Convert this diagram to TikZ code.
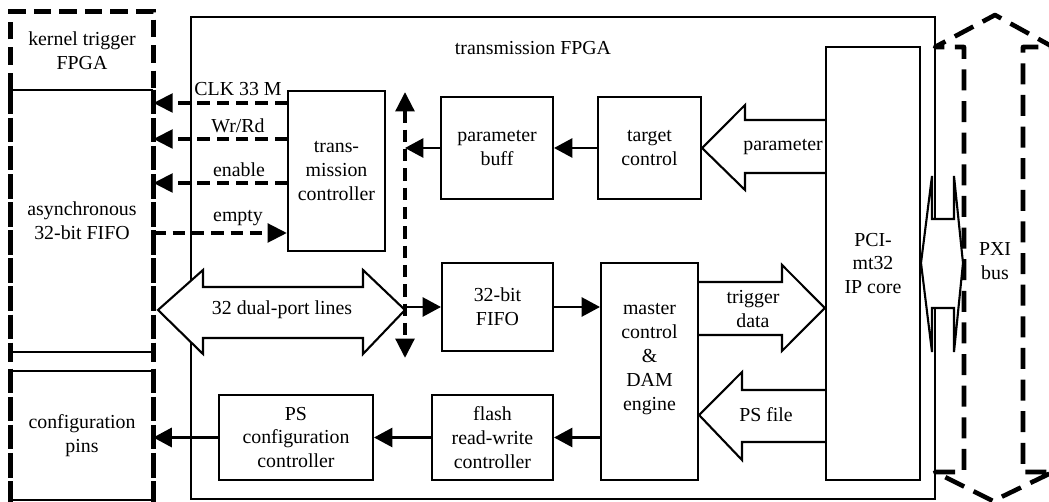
\documentclass[tikz,border=0pt]{standalone}
\usepackage{fontspec}
\setmainfont{Liberation Serif}
\usetikzlibrary{arrows.meta}

\tikzset{
    blk/.style={draw, line width=1.2pt, align=center, inner sep=0pt, fill=white},
    txt/.style={align=center, inner sep=0pt},
    kdash/.style={line width=2.6pt, dash pattern=on 10pt off 4.5pt},
    sdash/.style={line width=2.6pt, dash pattern=on 14pt off 2pt},
    sig/.style={line width=2.3pt, dash pattern=on 7pt off 4pt},
    pxidash/.style={line width=2.6pt, dash pattern=on 12pt off 6pt, line join=round},
    arr/.style={line width=1.2pt, -{Triangle[length=10.5pt,width=11pt]}},
    fat/.style={line width=1.2pt, fill=white, line join=miter},
    tip/.tip={Triangle[length=11pt,width=10.5pt]}
}

\begin{document}
\begin{tikzpicture}[x=0.02cm, y=-0.02cm, font=\fontsize{11.3}{13.6}\selectfont]
        \useasboundingbox (0,0) rectangle (1049,502);
        \node[draw, line width=1.2pt, minimum width=14.88cm, minimum height=9.64cm] (tfpga) at (563,258) {};
        \node[txt] (tfpgat) at (533,48) {transmission FPGA};

        \node[txt, minimum width=2.84cm, minimum height=1.56cm] (kern)  at (82,51)    {kernel trigger\\FPGA};
        \node[txt, minimum width=2.84cm, minimum height=5.24cm] (afifo) at (82,221)   {asynchronous\\32-bit FIFO};
        \node[txt, minimum width=2.84cm, minimum height=2.58cm] (cpins) at (82,435.5) {configuration\\pins};
        \draw[kdash] (kern.south west) -- (kern.north west) -- (kern.north east) -- (kern.south east);
        \draw[line width=1.2pt] (afifo.north west) -- (afifo.north east);
        \draw[line width=1.2pt] (afifo.south west) -- (afifo.south east);
        \draw[sdash] (afifo.north west) -- ++(0,272);
        \draw[sdash] (afifo.north east) -- ++(0,272);
        \draw[line width=1.2pt] (cpins.north west) -- (cpins.north east);
        \draw[line width=1.2pt] (cpins.south west) -- (cpins.south east);
        \draw[sdash] (cpins.north west) ++(0,-2) -- ++(0,135);
        \draw[sdash] (cpins.north east) ++(0,-2) -- ++(0,135);

        \draw[fat] (158,310) -- (203,270) -- (203,287) -- (363,287) -- (363,270) -- (405,310)
            -- (363,354) -- (363,338) -- (203,338) -- (203,354) -- cycle;
        \node[txt] (dual) at (282,310) {32 dual-port lines};

        \node[blk, minimum width=1.94cm, minimum height=3.2cm]  (tctrl)  at (336.5,171)  {trans-\\mission\\controller};
        \node[blk, minimum width=2.24cm, minimum height=2.04cm] (pbuff)  at (497,148)    {parameter\\buff};
        \node[blk, minimum width=2.06cm, minimum height=2.04cm] (tgt)    at (649.5,148)  {target\\control};
        \node[blk, minimum width=1.88cm, minimum height=8.66cm] (pci)    at (873,263.5)  {PCI-\\mt32\\IP core};
        \node[blk, minimum width=2.22cm, minimum height=1.76cm] (fifo)   at (497.5,307)  {32-bit\\FIFO};
        \node[blk, minimum width=1.94cm, minimum height=4.34cm] (mctrl)  at (649.5,371.5) {};
        \node[txt] (mctrlt) at (649.5,359) {master\\control\\\&\\DAM\\engine};
        \node[blk, minimum width=2.42cm, minimum height=1.70cm] (flash)  at (492.5,437.5) {flash\\read-write\\controller};
        \node[blk, minimum width=3.08cm, minimum height=1.70cm] (psconf) at (296,437.5)  {PS\\configuration\\controller};

        \draw[fat] (pci.west |- 0,120) -- (745,120) -- (745,105) -- (tgt.east) -- (745,190) -- (745,173) -- (pci.west |- 0,173);
        \node[txt] (param) at (783,147) {parameter};
        \draw[fat] (mctrl.east |- 0,282) -- (782,282) -- (782,265) -- (pci.west |- 0,308) -- (782,351) -- (782,335) -- (mctrl.east |- 0,335);
        \node[txt] (trig) at (753,309) {trigger\\data};
        \draw[fat] (pci.west |- 0,390) -- (742,390) -- (742,372) -- (mctrl.east |- 0,415) -- (742,460) -- (742,442) -- (pci.west |- 0,442);
        \node[txt] (psfile) at (766,415) {PS file};

        \draw[pxidash] (964,470) -- (964,47) -- (935,47) -- (995,15) -- (1053,47) -- (1023,47) -- (1023,472)
            -- (1053,472) -- (993,501) -- (935,472) -- (964,472);
        \node[txt] (pxi) at (995,261) {PXI\\bus};
        \draw[fat] (921,263) -- (932,176) -- (932,219) -- (954,219) -- (954,176) -- (963,263)
            -- (954,352) -- (954,308) -- (932,308) -- (932,352) -- cycle;

        \draw[sig, -{tip}] (tctrl.west |- 0,103) -- (afifo.east |- 0,103);
        \draw[sig, -{tip}] (tctrl.west |- 0,139) -- (afifo.east |- 0,139);
        \draw[sig, -{tip}] (tctrl.west |- 0,183) -- (afifo.east |- 0,183);
        \draw[sig, -{tip}] (afifo.east |- 0,233) -- (tctrl.west |- 0,233);
        \node[txt] (clk)   at (238,89)  {CLK 33 M};
        \node[txt] (wrrd)  at (238,126) {Wr/Rd};
        \node[txt] (enab)  at (239,170) {enable};
        \node[txt] (empt)  at (238,218) {empty};

        \coordinate (bt) at (405,92);
        \coordinate (bb) at (405,358);
        \draw[sig, {tip}-{tip}] (bt) -- (bb);

        \draw[arr] (tgt.west) -- (pbuff.east);
        \draw[arr] (pbuff.west) -- (bt |- pbuff.west);
        \draw[arr] (bt |- fifo.west) -- (fifo.west);
        \draw[arr] (fifo.east) -- (fifo.east -| mctrl.west);
        \draw[arr] (mctrl.west |- flash.east) -- (flash.east);
        \draw[arr] (flash.west) -- (psconf.east);
        \draw[arr] (psconf.west) -- (psconf.west -| cpins.east);
    \end{tikzpicture}
\end{document}
